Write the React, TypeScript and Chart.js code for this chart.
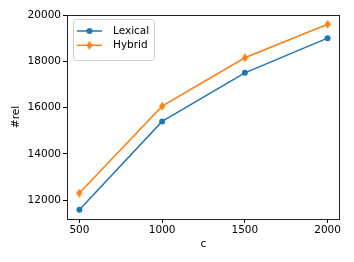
import React, { useEffect, useRef } from 'react';
import { Chart, registerables } from 'chart.js';
Chart.register(...registerables);

const cValues = [500, 1000, 1500, 2000];
const lexical = [11580, 15400, 17500, 19000];
const hybrid = [12300, 16060, 18150, 19600];
const xTicks = [500, 1000, 1500, 2000];
const yTicks = [12000, 14000, 16000, 18000, 20000];
const seriesNames = ['Lexical', 'Hybrid'];
const xLabel = 'c';
const yLabel = '#rel';

const BLUE = '#1f77b4';
const ORANGE = '#ff7f0e';
const FONT = 'DejaVu Sans';
const FS = 10.5;

function thinDiamond(color: string): HTMLCanvasElement {
  const c = document.createElement('canvas');
  c.width = 6;
  c.height = 9;
  const ctx = c.getContext('2d')!;
  ctx.fillStyle = color;
  ctx.beginPath();
  ctx.moveTo(3, 0);
  ctx.lineTo(6, 4.5);
  ctx.lineTo(3, 9);
  ctx.lineTo(0, 4.5);
  ctx.closePath();
  ctx.fill();
  return c;
}

export default function App() {
  const ref = useRef<HTMLCanvasElement>(null);
  useEffect(() => {
    const diamond = thinDiamond(ORANGE);
    const framePlugin = {
      id: 'frame',
      afterDatasetsDraw(chart: any) {
        const { ctx, chartArea: a } = chart;
        ctx.save();
        ctx.strokeStyle = '#222';
        ctx.lineWidth = 1;
        ctx.strokeRect(Math.round(a.left) + 0.5, Math.round(a.top) + 0.5, Math.round(a.right - a.left) - 1, Math.round(a.bottom - a.top));
        ctx.restore();
      },
    };
    const legendPlugin = {
      id: 'mplLegend',
      afterDraw(chart: any) {
        const ctx = chart.ctx as CanvasRenderingContext2D;
        ctx.save();
        const x = 73.5, y = 19.5, w = 81, h = 41, r = 3;
        ctx.beginPath();
        ctx.moveTo(x + r, y);
        ctx.arcTo(x + w, y, x + w, y + h, r);
        ctx.arcTo(x + w, y + h, x, y + h, r);
        ctx.arcTo(x, y + h, x, y, r);
        ctx.arcTo(x, y, x + w, y, r);
        ctx.closePath();
        ctx.fillStyle = 'rgba(255,255,255,0.8)';
        ctx.fill();
        ctx.strokeStyle = '#cccccc';
        ctx.lineWidth = 1;
        ctx.stroke();
        const rows = [
          { name: seriesNames[0], color: BLUE, cy: 31 },
          { name: seriesNames[1], color: ORANGE, cy: 45.3 },
        ];
        rows.forEach((row, i) => {
          ctx.strokeStyle = row.color;
          ctx.lineWidth = 1.5;
          ctx.beginPath();
          ctx.moveTo(77, row.cy);
          ctx.lineTo(102, row.cy);
          ctx.stroke();
          if (i === 0) {
            ctx.fillStyle = row.color;
            ctx.beginPath();
            ctx.arc(89.5, row.cy, 3, 0, Math.PI * 2);
            ctx.fill();
          } else {
            ctx.drawImage(diamond, 89.5 - 3, row.cy - 4.5);
          }
          ctx.fillStyle = '#000';
          ctx.font = `${FS}px "${FONT}"`;
          ctx.textBaseline = 'middle';
          ctx.textAlign = 'left';
          ctx.fillText(row.name, 113, row.cy);
        });
        ctx.restore();
      },
    };
    const chart = new Chart(ref.current!, {
      type: 'line',
      data: {
        datasets: [
          {
            label: seriesNames[0],
            data: cValues.map((c, i) => ({ x: c, y: lexical[i] })),
            borderColor: BLUE,
            backgroundColor: BLUE,
            borderWidth: 1.5,
            pointStyle: 'circle',
            pointRadius: 3,
            pointBorderWidth: 0,
            pointBackgroundColor: BLUE,
          },
          {
            label: seriesNames[1],
            data: cValues.map((c, i) => ({ x: c, y: hybrid[i] })),
            borderColor: ORANGE,
            backgroundColor: ORANGE,
            borderWidth: 1.5,
            pointStyle: diamond as any,
            pointRadius: 4,
          },
        ],
      },
      options: {
        animation: false,
        responsive: false,
        events: [],
        layout: { padding: { top: 15, right: 14, left: 0, bottom: 0 } },
        plugins: { legend: { display: false }, tooltip: { enabled: false } },
        scales: {
          x: {
            type: 'linear',
            min: 425,
            max: 2075,
            afterBuildTicks: (s: any) => { s.ticks = xTicks.map((v) => ({ value: v })); },
            afterFit: (s: any) => { s.height = 43; },
            ticks: { callback: (v: any) => String(v), color: '#000', font: { family: FONT, size: FS }, padding: 1, maxRotation: 0, autoSkip: false },
            grid: { drawOnChartArea: false, drawTicks: true, tickLength: 4, tickColor: '#000', tickWidth: 1 },
            border: { display: false },
            title: { display: true, text: xLabel, color: '#000', font: { family: FONT, size: FS }, padding: { top: 0, bottom: 11 } },
          },
          y: {
            type: 'linear',
            min: 11180,
            max: 20000,
            afterBuildTicks: (s: any) => { s.ticks = yTicks.map((v) => ({ value: v })); },
            afterFit: (s: any) => { s.width = 67; },
            ticks: { callback: (v: any) => String(v), color: '#000', font: { family: FONT, size: FS }, padding: 2, autoSkip: false },
            grid: { drawOnChartArea: false, drawTicks: true, tickLength: 4, tickColor: '#000', tickWidth: 1 },
            border: { display: false },
            title: { display: true, text: yLabel, color: '#000', font: { family: FONT, size: FS }, padding: { top: 10, bottom: 0 } },
          },
        },
      },
      plugins: [framePlugin, legendPlugin],
    });
    return () => chart.destroy();
  }, []);
  return (
    <div style={{ position: 'absolute', left: 0, top: 0, width: 354, height: 262, background: '#fff' }}>
      <canvas ref={ref} width={354} height={262} style={{ display: 'block' }} />
    </div>
  );
}
